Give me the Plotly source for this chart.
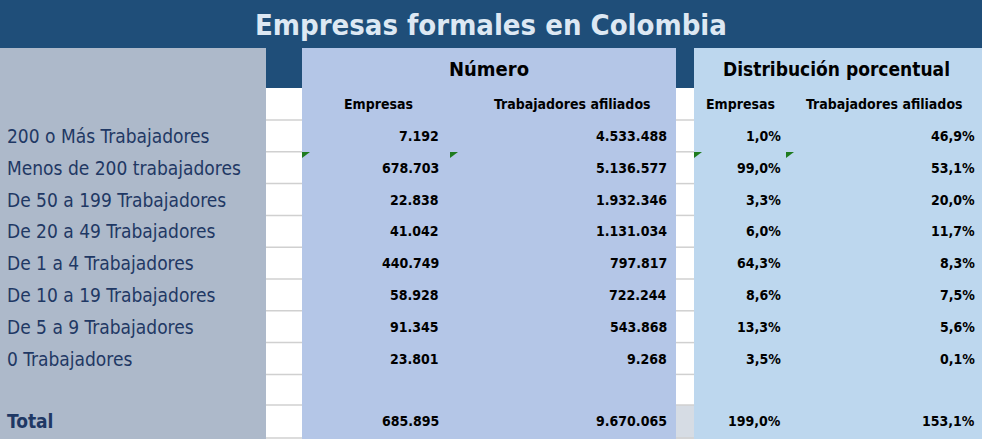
import plotly.graph_objects as go

categorias = ["200 o Más Trabajadores", "Menos de 200 trabajadores", "De 50 a 199 Trabajadores",
              "De 20 a 49 Trabajadores", "De 1 a 4 Trabajadores", "De 10 a 19 Trabajadores",
              "De 5 a 9 Trabajadores", "0 Trabajadores"]
empresas = ["7.192", "678.703", "22.838", "41.042", "440.749", "58.928", "91.345", "23.801"]
trabajadores = ["4.533.488", "5.136.577", "1.932.346", "1.131.034", "797.817", "722.244", "543.868", "9.268"]
pct_empresas = ["1,0%", "99,0%", "3,3%", "6,0%", "64,3%", "8,6%", "13,3%", "3,5%"]
pct_trabajadores = ["46,9%", "53,1%", "20,0%", "11,7%", "8,3%", "7,5%", "5,6%", "0,1%"]
total = ["685.895", "9.670.065", "199,0%", "153,1%"]

W, H = 982, 439
DARK = "#1F4E79"
FONT = "DejaVu Sans Condensed"

fig = go.Figure()
shapes = []
def rect(x0, y0, x1, y1, c):
    shapes.append(dict(type="rect", x0=x0, y0=y0, x1=x1, y1=y1, fillcolor=c, line_width=0, layer="below"))

rect(0, 0, W, 48, DARK)
rect(0, 48, 266, H, "#ADB9CA")
rect(266, 48, 302, 88, DARK)
rect(676, 48, 694, 88, DARK)
rect(302, 48, 676, H, "#B4C6E7")
rect(694, 48, W, H, "#BDD7EE")
rect(676, 405, 694, H, "#D6DCE4")

# lineas de cuadricula en las columnas blancas
row_top = 120
row_h = 31.8
bounds = [120] + [row_top + row_h * (i + 1) for i in range(len(categorias))] + [405, H - 1]
for b in bounds:
    for x0, x1 in [(266, 302), (676, 694)]:
        shapes.append(dict(type="line", x0=x0, x1=x1, y0=b, y1=b, line=dict(color="#D0D0D0", width=1.5)))

# marcas verdes
for gx in [302, 450, 694, 786]:
    shapes.append(dict(type="path", path=f"M {gx} 152 L {gx+8} 152 L {gx} 158 Z",
                       fillcolor="#1E7B1E", line_width=0))

ann = []
def txt(x, y, s, size, color="#000000", bold=False, anchor="center"):
    ann.append(dict(x=x, y=y, text=f"<b>{s}</b>" if bold else s, showarrow=False, xanchor=anchor,
                    yanchor="middle", font=dict(family=FONT, size=size, color=color)))

txt(W / 2, 25, "<b>Empresas formales en Colombia</b>", 29, "#DDE8F3")
txt(489, 69, "Número", 20, bold=True)
txt(836, 69, "Distribución porcentual", 19, bold=True)
txt(378, 104, "Empresas", 14, bold=True)
txt(572, 104, "Trabajadores afiliados", 14, bold=True)
txt(740, 104, "Empresas", 14, bold=True)
txt(884, 104, "Trabajadores afiliados", 14, bold=True)

for i, c in enumerate(categorias):
    y = row_top + row_h * (i + 0.5)
    txt(5, y, c, 19, "#1F3864", anchor="left")
    txt(441, y, empresas[i], 14, bold=True, anchor="right")
    txt(669, y, trabajadores[i], 14, bold=True, anchor="right")
    txt(783, y, pct_empresas[i], 14, bold=True, anchor="right")
    txt(977, y, pct_trabajadores[i], 14, bold=True, anchor="right")

yt = 421
txt(5, yt, "Total", 19, "#1F3864", bold=True, anchor="left")
for x, v in zip([441, 669, 783, 977], total):
    txt(x, yt, v, 14, bold=True, anchor="right")

fig.update_layout(width=W, height=H, margin=dict(l=0, r=0, t=0, b=0),
                  plot_bgcolor="white", paper_bgcolor="white", shapes=shapes, annotations=ann,
                  xaxis=dict(range=[0, W], visible=False, fixedrange=True),
                  yaxis=dict(range=[H, 0], visible=False, fixedrange=True),
                  showlegend=False)
fig.write_html("out.html", config={"displayModeBar": False},
               post_script="document.body.style.margin='0';document.body.style.overflow='hidden';")
